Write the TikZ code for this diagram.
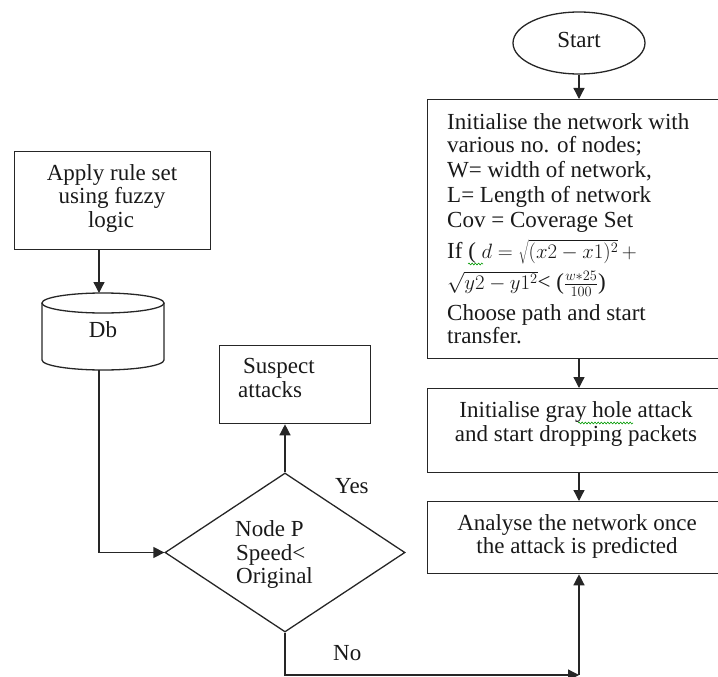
\documentclass[tikz,border=0pt]{standalone}
\usepackage{fontspec}
\setmainfont{Liberation Serif}
\usetikzlibrary{arrows.meta,shapes.geometric,decorations.pathmorphing}
\newcommand{\mfs}{\fontsize{22}{25}\selectfont}
\begin{document}
\begin{tikzpicture}[x=1pt,y=-1pt,
  line/.style={draw=black!85, line width=1.3pt},
  arr/.style={line, -{Triangle[length=11pt,width=11pt]}},
  box/.style={line, rectangle, inner sep=0pt, anchor=north west},
  txt/.style={font=\fontsize{23}{26}\selectfont, inner sep=0pt, text=black!90},
  lt/.style={txt, anchor=base west},
  ct/.style={txt, anchor=base},
  squig/.style={draw=green!60!black, line width=0.6pt, decorate,
    decoration={snake, amplitude=0.9pt, segment length=3.2pt}}
]
\useasboundingbox (0,0) rectangle (718,677);

% shapes
\node[line, ellipse, minimum width=132pt, minimum height=62pt, inner sep=0pt] (start) at (579,43) {};
\node[box, minimum width=300pt, minimum height=259pt] (init) at (427,99) {};
\node[box, minimum width=300pt, minimum height=84pt] (gray) at (427,388) {};
\node[box, minimum width=300pt, minimum height=72pt] (anal) at (427,501) {};
\node[box, minimum width=196pt, minimum height=98pt] (rule) at (14,151) {};
\node[box, minimum width=151pt, minimum height=78pt] (susp) at (219,345) {};
\node[line, diamond, minimum width=240pt, minimum height=159pt, inner sep=0pt] (dec) at (285,552.5) {};

% database cylinder
\draw[line] (42,303) -- (42,360) arc[start angle=180, end angle=360, x radius=61pt, y radius=10pt] -- (164,303);
\draw[line] (103,303) ellipse[x radius=61pt, y radius=10pt];
\coordinate (dbtop) at (99,293);
\coordinate (dbbot) at (99,370);
\coordinate (nocorner) at (579,675);

% texts
\node[ct] (tstart) at (579,48) {Start};
\node[lt] (i1) at (447,129) {Initialise the network with};
\node[lt] (i2) at (447,152) {various no. of nodes;};
\node[lt] (i3) at (447,177) {W= width of network,};
\node[lt] (i4) at (447,202) {L= Length of network};
\node[lt] (i5) at (447,227) {Cov = Coverage Set};
\node[lt] (i6) at (447,258) {If ( {\mfs$d = \sqrt{(x2-x1)^2}\, +$}};
\node[lt] (i7) at (447,289) {{\mfs$\sqrt{y2-y1^{2}}$}< ({\mfs$\frac{w*25}{100}$})};
\node[lt] (i8) at (447,320) {Choose path and start};
\node[lt] (i9) at (447,343) {transfer.};

\node[ct] (g1) at (576,417) {Initialise gray hole attack};
\node[ct] (g2) at (576,441) {and start dropping packets};
\node[ct] (a1) at (577,530) {Analyse the network once};
\node[ct] (a2) at (577,553) {the attack is predicted};

\node[ct] (r1) at (112,180) {Apply rule set};
\node[ct] (r2) at (112,203) {using fuzzy};
\node[ct] (r3) at (111,227) {logic};
\node[ct] (db) at (103,337) {Db};

\node[lt] (s1) at (243,373) {Suspect};
\node[lt] (s2) at (238,397) {attacks};

\node[lt] (d1) at (235,536) {Node P};
\node[lt] (d2) at (236,560) {Speed<};
\node[lt] (d3) at (236,583) {Original};

\node[lt] (yes) at (335,493) {Yes};
\node[lt] (no) at (333,660) {No};

% spell-check marks
\draw[squig] (578,423) -- (633,423);
\draw[squig] (468,264) -- (483,264);

% connectors
\draw[arr] (start.south) -- (start.south |- init.north);
\draw[arr] (start.south |- init.south) -- (start.south |- gray.north);
\draw[arr] (start.south |- gray.south) -- (start.south |- anal.north);
\draw[arr] (dbtop |- rule.south) -- (dbtop);
\draw[arr] (dbbot) |- (dec.west);
\draw[arr] (dec.north) -- (dec.north |- susp.south);
\draw[arr] (dec.south) |- (nocorner);
\draw[arr] (nocorner) -- (start.south |- anal.south);
\end{tikzpicture}
\end{document}
